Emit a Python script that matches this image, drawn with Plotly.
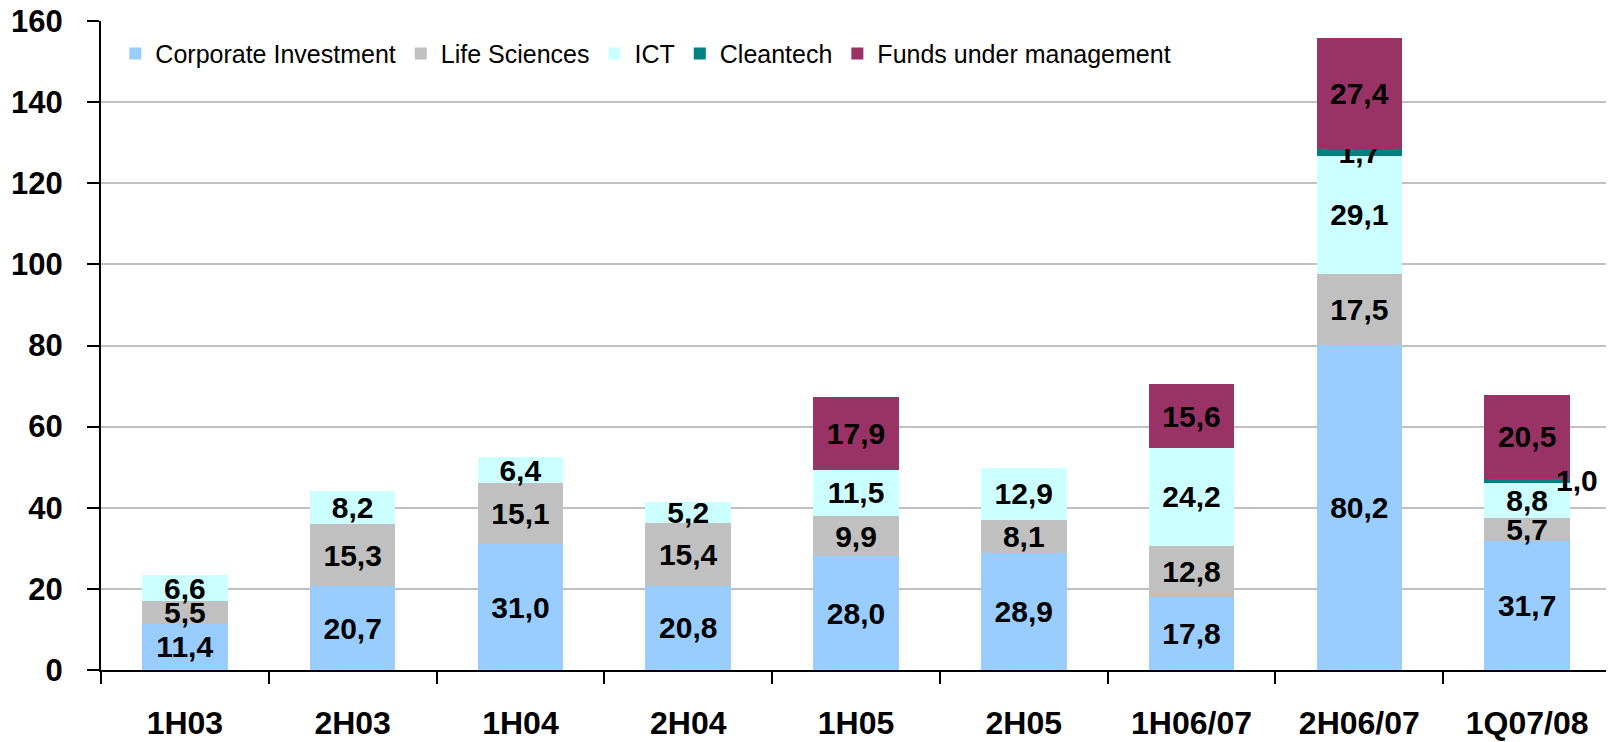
import plotly.graph_objects as go

categories = ["1H03", "2H03", "1H04", "2H04", "1H05", "2H05", "1H06/07", "2H06/07", "1Q07/08"]
corporate = [11.4, 20.7, 31.0, 20.8, 28.0, 28.9, 17.8, 80.2, 31.7]
life_sciences = [5.5, 15.3, 15.1, 15.4, 9.9, 8.1, 12.8, 17.5, 5.7]
ict = [6.6, 8.2, 6.4, 5.2, 11.5, 12.9, 24.2, 29.1, 8.8]
cleantech = [None, None, None, None, None, None, None, 1.7, 1.0]
funds = [None, None, None, None, 17.9, None, 15.6, 27.4, 20.5]

series = [
    ("Corporate Investment", corporate, "#99CCFF"),
    ("Life Sciences", life_sciences, "#C0C0C0"),
    ("ICT", ict, "#CCFFFF"),
    ("Cleantech", cleantech, "#008080"),
    ("Funds under management", funds, "#993366"),
]

FONT = "Liberation Sans, Arial, sans-serif"


def fmt(v):
    return "" if v is None else ("%.1f" % v).replace(".", ",")


fig = go.Figure()
for name, vals, color in series:
    txt = [fmt(v) for v in vals]
    if name == "Cleantech":
        txt[-1] = ""  # drawn beside the bar instead
    fig.add_trace(go.Bar(
        name=name, x=categories, y=vals, marker=dict(color=color, line=dict(width=0)),
        text=txt, textposition="inside", insidetextanchor="middle",
        textfont=dict(family=FONT, size=30, color="black", weight="bold"),
        cliponaxis=False, constraintext="none",
    ))

# label for the small Cleantech value in the last bar, placed to its right
last_base = corporate[-1] + life_sciences[-1] + ict[-1]
fig.add_annotation(
    x=categories[-1], y=last_base + cleantech[-1] / 2,
    text=fmt(cleantech[-1]), showarrow=False,
    xshift=50, font=dict(family=FONT, size=30, color="black", weight="bold"),
)

fig.update_layout(
    barmode="stack", bargap=0.49,
    width=1606, height=734,
    margin=dict(l=93, r=3, t=13, b=72, autoexpand=False),
    plot_bgcolor="white", paper_bgcolor="white",
    uniformtext=dict(minsize=30, mode="show"),
    legend=dict(orientation="h", x=0.0095, y=0.985, xanchor="left", yanchor="top",
                font=dict(family=FONT, size=25, color="black"),
                bgcolor="rgba(0,0,0,0)", itemwidth=30, traceorder="normal"),
    xaxis=dict(showline=True, linecolor="black", linewidth=2, tickson="boundaries",
               ticks="outside", ticklen=12, tickwidth=2, tickcolor="black",
               ticklabelstandoff=24, automargin=False, ticklabeloverflow="allow",
               tickfont=dict(family=FONT, size=32, color="black", weight="bold")),
    yaxis=dict(range=[0, 160], dtick=20, showline=True, linecolor="black", linewidth=2,
               ticks="outside", ticklen=12, tickwidth=2, tickcolor="black",
               ticklabelstandoff=18, automargin=False, ticklabeloverflow="allow",
               showgrid=True, gridcolor="#C0C0C0", gridwidth=2, zeroline=False,
               tickfont=dict(family=FONT, size=31, color="black", weight="bold")),
)

fig.write_html("out.html")
